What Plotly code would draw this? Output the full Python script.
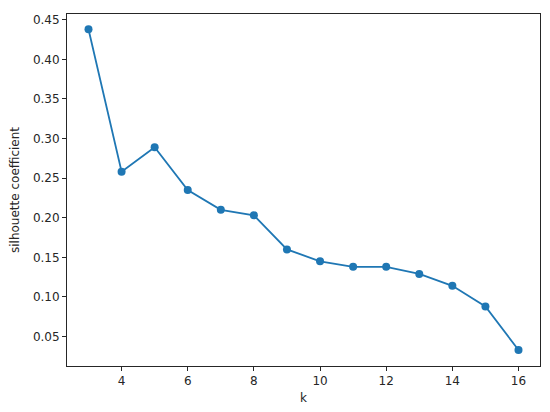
import plotly.graph_objects as go

k_values = [3, 4, 5, 6, 7, 8, 9, 10, 11, 12, 13, 14, 15, 16]
silhouette = [0.438, 0.258, 0.289, 0.235, 0.210, 0.203, 0.160, 0.145, 0.138, 0.138, 0.129, 0.114, 0.088, 0.033]
x_ticks = [4, 6, 8, 10, 12, 14, 16]
y_ticks = [0.05, 0.10, 0.15, 0.20, 0.25, 0.30, 0.35, 0.40, 0.45]

fig = go.Figure()
fig.add_trace(go.Scatter(
    x=k_values, y=silhouette, mode="lines+markers",
    line=dict(color="#1f77b4", width=1.8),
    marker=dict(color="#1f77b4", size=8),
    showlegend=False,
))

axis_common = dict(
    showline=True, linecolor="#262626", linewidth=1, mirror=True,
    ticks="outside", ticklen=4, tickwidth=1, tickcolor="#262626",
    showgrid=False, zeroline=False, automargin=False,
    tickfont=dict(family="DejaVu Sans", size=12, color="#262626"),
)

# page body has an 8px margin, so the figure is sized to fit the 550x412 window
fig.update_layout(
    width=542, height=404,
    margin=dict(l=59, r=10, t=6, b=46),
    paper_bgcolor="white", plot_bgcolor="white",
    font=dict(family="DejaVu Sans", size=12, color="#262626"),
    xaxis=dict(
        range=[2.35, 16.65], tickvals=x_ticks,
        ticktext=[str(v) for v in x_ticks],
        title=dict(text="k", standoff=6, font=dict(size=12)),
        **axis_common,
    ),
    yaxis=dict(
        range=[0.0128, 0.4572], tickvals=y_ticks,
        ticktext=[f"{v:.2f}" for v in y_ticks],
        title=dict(text="silhouette coefficient", standoff=18, font=dict(size=12)),
        **axis_common,
    ),
)

fig.write_html("out.html")
